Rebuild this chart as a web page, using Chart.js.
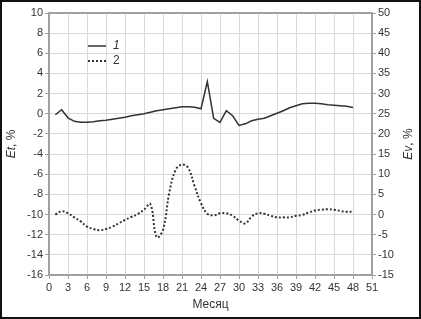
<!DOCTYPE html>
<html>
<head>
<meta charset="utf-8">
<script src="https://cdn.jsdelivr.net/npm/chart.js@4/dist/chart.umd.min.js"></script>
<style>
  html, body { margin: 0; padding: 0; background: #fff; }
  #wrap { width: 421px; height: 319px; position: relative; }
</style>
</head>
<body>
<div id="wrap"><canvas id="chart" width="421" height="319"></canvas></div>
<script>
// months
const months = [1,2,3,4,5,6,7,8,9,10,11,12,13,14,15,16,17,18,19,20,21,22,23,24,
                25,26,27,28,29,30,31,32,33,34,35,36,37,38,39,40,41,42,43,44,45,46,47,48];
// curve 1, Et %
const et = [-0.1,0.4,-0.4,-0.75,-0.85,-0.85,-0.8,-0.7,-0.65,-0.55,-0.45,-0.35,-0.2,-0.1,0.0,0.15,
            0.3,0.4,0.5,0.6,0.7,0.7,0.65,0.5,3.2,-0.45,-0.85,0.3,-0.2,-1.15,-1.0,-0.7,
            -0.55,-0.45,-0.2,0.05,0.3,0.6,0.8,1.0,1.05,1.05,1.0,0.9,0.85,0.8,0.75,0.63];
// curve 2, Ev %
const ev = [0.0,0.8,0.3,-0.7,-1.7,-3.0,-3.6,-3.9,-3.6,-3.0,-2.2,-1.3,-0.6,0.1,1.2,2.6,
            -5.6,-3.8,5.5,11.1,12.4,11.5,7.0,2.8,0.2,-0.2,0.3,0.3,-0.3,-1.5,-2.2,-0.5,
            0.3,0.2,-0.3,-0.7,-0.7,-0.7,-0.3,-0.1,0.5,1.0,1.2,1.3,1.2,0.9,0.7,0.7];
// ticks
const xTicks = [0, 51, 3];
const leftTicks = [-16, 10, 2];
const rightTicks = [-15, 50, 5];

const FONT = '"Liberation Sans", Arial, sans-serif';
const TXT = '#333';

const decor = {
  id: 'decor',
  afterDraw(chart) {
    const ctx = chart.ctx;
    const a = chart.chartArea;
    ctx.save();
    // plot frame
    ctx.strokeStyle = '#a0a0a0';
    ctx.lineWidth = 2;
    ctx.strokeRect(a.left, a.top, a.right - a.left, a.bottom - a.top);
    // outer frame
    ctx.strokeStyle = '#111';
    ctx.lineWidth = 2;
    ctx.strokeRect(1, 1, chart.width - 2, chart.height - 2);
    ctx.fillStyle = TXT;
    ctx.textBaseline = 'middle';
    // x title
    ctx.font = '12px ' + FONT;
    ctx.textAlign = 'center';
    ctx.fillText('Месяц', (a.left + a.right) / 2, 305);
    // y titles
    const titleY = (a.top + a.bottom) / 2;
    [[12, 'Et'], [409, 'Ev']].forEach(([x, name]) => {
      ctx.save();
      ctx.translate(x, titleY);
      ctx.rotate(-Math.PI / 2);
      ctx.font = 'italic 12px ' + FONT;
      const w1 = ctx.measureText(name).width;
      ctx.font = '12px ' + FONT;
      const w2 = ctx.measureText(', %').width;
      ctx.textAlign = 'left';
      ctx.font = 'italic 12px ' + FONT;
      ctx.fillText(name, -(w1 + w2) / 2, 0);
      ctx.font = '12px ' + FONT;
      ctx.fillText(', %', -(w1 + w2) / 2 + w1, 0);
      ctx.restore();
    });
    // legend
    ctx.strokeStyle = '#333';
    ctx.lineWidth = 1.5;
    ctx.beginPath(); ctx.moveTo(88, 46); ctx.lineTo(106, 46); ctx.stroke();
    ctx.setLineDash([2, 2]);
    ctx.lineWidth = 2;
    ctx.beginPath(); ctx.moveTo(88, 61); ctx.lineTo(106, 61); ctx.stroke();
    ctx.setLineDash([]);
    ctx.textAlign = 'left';
    ctx.font = 'italic 12px ' + FONT;
    ctx.fillText('1', 113, 46);
    ctx.font = '12px ' + FONT;
    ctx.fillText('2', 113, 61);
    ctx.restore();
  }
};

new Chart(document.getElementById('chart'), {
  type: 'line',
  data: {
    datasets: [
      {
        label: '1',
        data: months.map((m, i) => ({ x: m, y: et[i] })),
        yAxisID: 'y',
        borderColor: '#333',
        borderWidth: 1.5,
        pointRadius: 0,
        tension: 0
      },
      {
        label: '2',
        data: months.map((m, i) => ({ x: m, y: ev[i] })),
        yAxisID: 'y2',
        borderColor: '#333',
        borderWidth: 2,
        borderDash: [2, 2],
        pointRadius: 0,
        tension: 0.4
      }
    ]
  },
  options: {
    responsive: false,
    animation: false,
    layout: { padding: { top: 13, left: 0, right: 0, bottom: 0 } },
    plugins: { legend: { display: false }, tooltip: { enabled: false } },
    scales: {
      x: {
        type: 'linear',
        min: xTicks[0], max: xTicks[1],
        grid: { color: '#d9d9d9', tickLength: 4, tickColor: '#a0a0a0' },
        border: { display: false },
        ticks: { stepSize: xTicks[2], color: TXT, font: { family: FONT, size: 11 }, padding: 2, maxRotation: 0 },
        afterFit(s) { s.height = 44; }
      },
      y: {
        position: 'left',
        min: leftTicks[0], max: leftTicks[1],
        grid: { color: '#d9d9d9', tickLength: 4, tickColor: '#a0a0a0' },
        border: { display: false },
        ticks: { stepSize: leftTicks[2], color: TXT, font: { family: FONT, size: 11 }, padding: 2 },
        afterFit(s) { s.width = 49; }
      },
      y2: {
        position: 'right',
        min: rightTicks[0], max: rightTicks[1],
        grid: { drawOnChartArea: false, tickLength: 4, tickColor: '#a0a0a0' },
        border: { display: false },
        ticks: { stepSize: rightTicks[2], color: TXT, font: { family: FONT, size: 11 }, padding: 2 },
        afterFit(s) { s.width = 49; }
      }
    }
  },
  plugins: [decor]
});
</script>
</body>
</html>
